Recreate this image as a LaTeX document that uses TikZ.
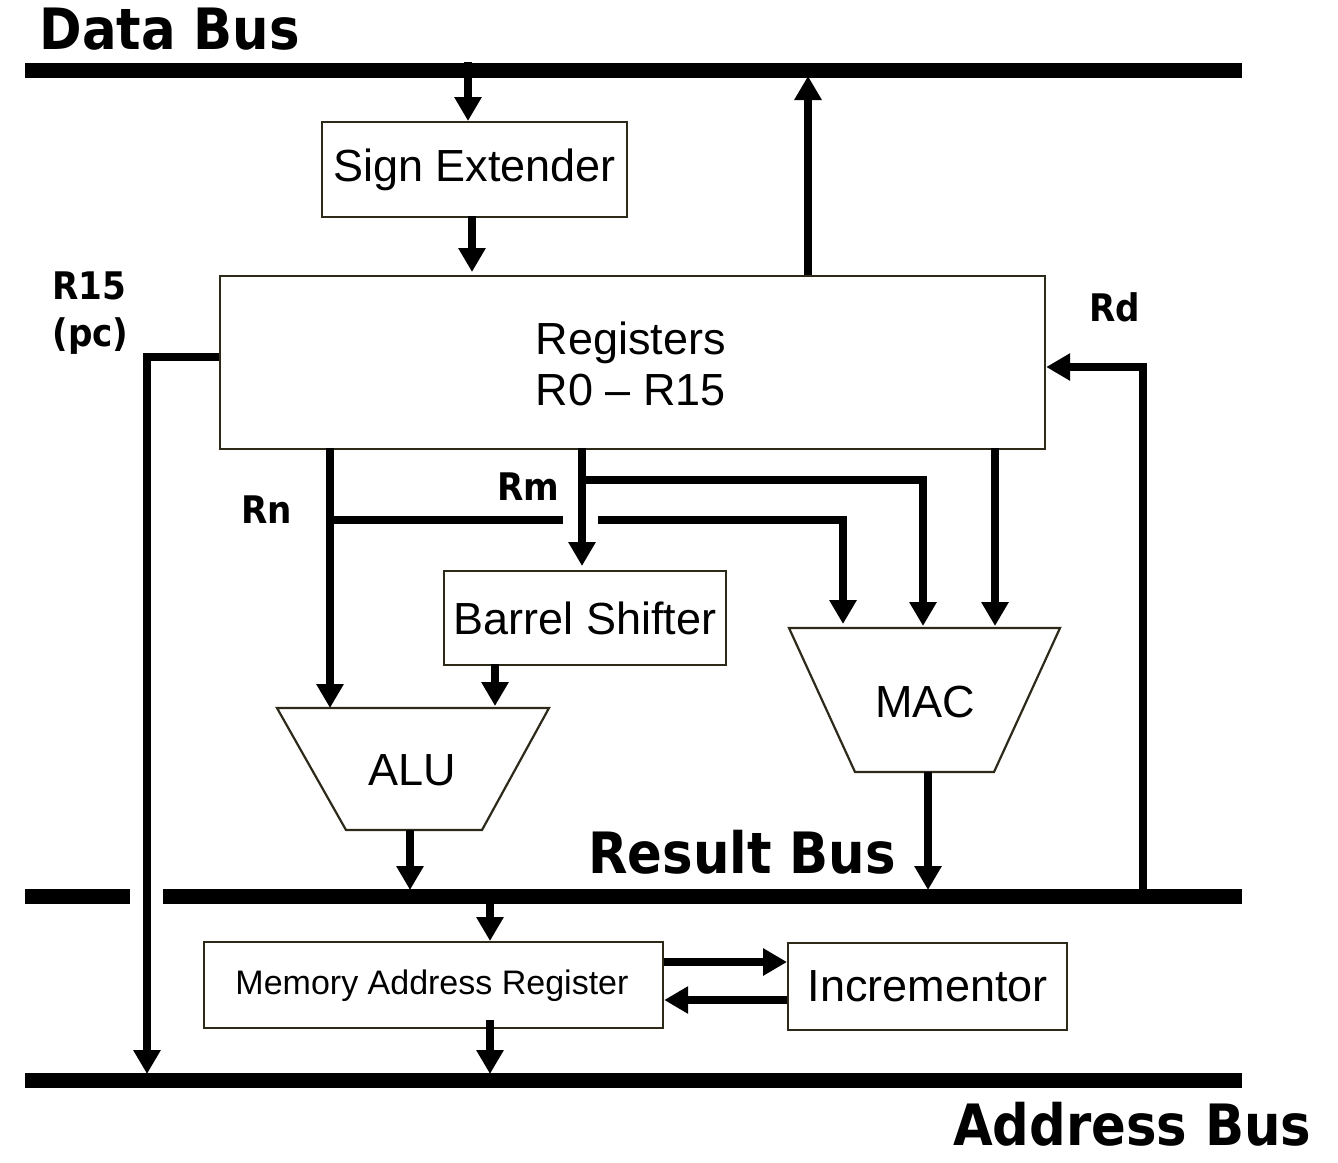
\documentclass[tikz,border=0pt]{standalone}
\usepackage{fontspec}
\setmainfont{Liberation Sans}
\newfontfamily\lblfont[FakeStretch=0.9]{DejaVu Sans}
\usetikzlibrary{arrows.meta}
\definecolor{boxline}{HTML}{2E2A1A}
\tikzset{
  bus/.style={line width=15pt},
  conn/.style={line width=8pt, -{Triangle[length=24pt,width=26pt]}},
  plain/.style={line width=8pt},
  blk/.style={draw=boxline, line width=2.2pt, fill=white, inner sep=0pt},
  blktext/.style={font=\fontsize{45}{50}\selectfont},
  buslbl/.style={font=\lblfont\bfseries\fontsize{57}{60}\selectfont},
  sig/.style={font=\lblfont\bfseries\fontsize{38}{47}\selectfont, align=left}
}
\begin{document}
\begin{tikzpicture}[x=1pt,y=-1pt]
\useasboundingbox (0,0) rectangle (1338,1162);
% buses
\coordinate (db0) at (25,70); \coordinate (db1) at (1242,70);
\draw[bus] (db0) -- (db1);
\coordinate (rb0) at (25,896); \coordinate (rb1) at (130,896);
\coordinate (rb2) at (163,896); \coordinate (rb3) at (1242,896);
\draw[bus] (rb0) -- (rb1);
\draw[bus] (rb2) -- (rb3);
\coordinate (ab0) at (25,1080); \coordinate (ab1) at (1242,1080);
\draw[bus] (ab0) -- (ab1);
% bus labels
\node[buslbl, anchor=base west] (dbl) at (36,49) {Data Bus};
\node[buslbl, anchor=base] (rbl) at (742,873) {Result Bus};
\node[buslbl, anchor=base east] (abl) at (1315,1145) {Address Bus};
% blocks
\node[blk, minimum width=305pt, minimum height=95pt, anchor=north west] (se) at (321,121) {};
\node[blktext] at (se.center) {Sign Extender};
\node[blk, minimum width=825pt, minimum height=173pt, anchor=north west] (reg) at (219,275) {};
\node[blktext, align=center] (regt) at (631,364) {Registers\\[1pt]R0 -- R15};
\node[blk, minimum width=282pt, minimum height=94pt, anchor=north west] (bs) at (443,570) {};
\node[blktext] at (bs.center) {Barrel Shifter};
\node[blk, minimum width=459pt, minimum height=86pt, anchor=north west] (mar) at (203,941) {};
\node[font=\fontsize{34}{40}\selectfont] at (432,986) {Memory Address Register};
\node[blk, minimum width=279pt, minimum height=87pt, anchor=north west] (inc) at (787,942) {};
\node[blktext] at (inc.center) {Incrementor};
% ALU and MAC trapezoids
\coordinate (aluTL) at (277,708); \coordinate (aluTR) at (549,708);
\coordinate (aluBR) at (482,830); \coordinate (aluBL) at (346,830);
\draw[draw=boxline, line width=2.2pt, fill=white] (aluTL) -- (aluTR) -- (aluBR) -- (aluBL) -- cycle;
\node[blktext] (alu) at (412,770) {ALU};
\coordinate (macTL) at (789,628); \coordinate (macTR) at (1060,628);
\coordinate (macBR) at (994,772); \coordinate (macBL) at (855,772);
\draw[draw=boxline, line width=2.2pt, fill=white] (macTL) -- (macTR) -- (macBR) -- (macBL) -- cycle;
\node[blktext] (mac) at (925,702) {MAC};
% signal labels
\node[sig, anchor=north west] (r15) at (49,268) {R15\\(pc)};
\node[sig] (rd) at (1115,307) {Rd};
\node[sig] (rn) at (267,510) {Rn};
\node[sig] (rm) at (528,487) {Rm};
% connectors
\draw[conn] (468,62) -- (se.north -| 468,0);
\draw[conn] (472,216) -- (472,272);
\draw[conn] (808,275) -- (808,76);
% R15
\draw[plain] (reg.west |- 0,357) -- (147,357);
\draw[conn] (147,353) -- (147,1074);
% Rd
\draw[plain] (1143,889) -- (1143,363);
\draw[conn] (1147,367) -- (reg.east |- 0,367);
% Rn
\draw[conn] (330,448) -- (330,708);
\draw[plain] (330,520) -- (563,520);
\draw[plain] (598,520) -- (847,520);
\draw[conn] (843,516) -- (843,624);
% Rm
\draw[conn] (582,448) -- (582,566);
\draw[plain] (582,480) -- (927,480);
\draw[conn] (923,476) -- (923,626);
% third input to MAC
\draw[conn] (995,448) -- (995,626);
% barrel shifter to ALU
\draw[conn] (495,664) -- (495,706);
% ALU / MAC to result bus
\draw[conn] (410,830) -- (410,890);
\draw[conn] (928,772) -- (928,890);
% result bus to MAR
\draw[conn] (490,903) -- (490,941);
% MAR to address bus
\draw[conn] (490,1020) -- (490,1074);
% MAR <-> Incrementor
\draw[conn] (mar.east |- 0,962) -- (inc.west |- 0,962);
\draw[conn] (inc.west |- 0,1000) -- (mar.east |- 0,1000);
\end{tikzpicture}
\end{document}
